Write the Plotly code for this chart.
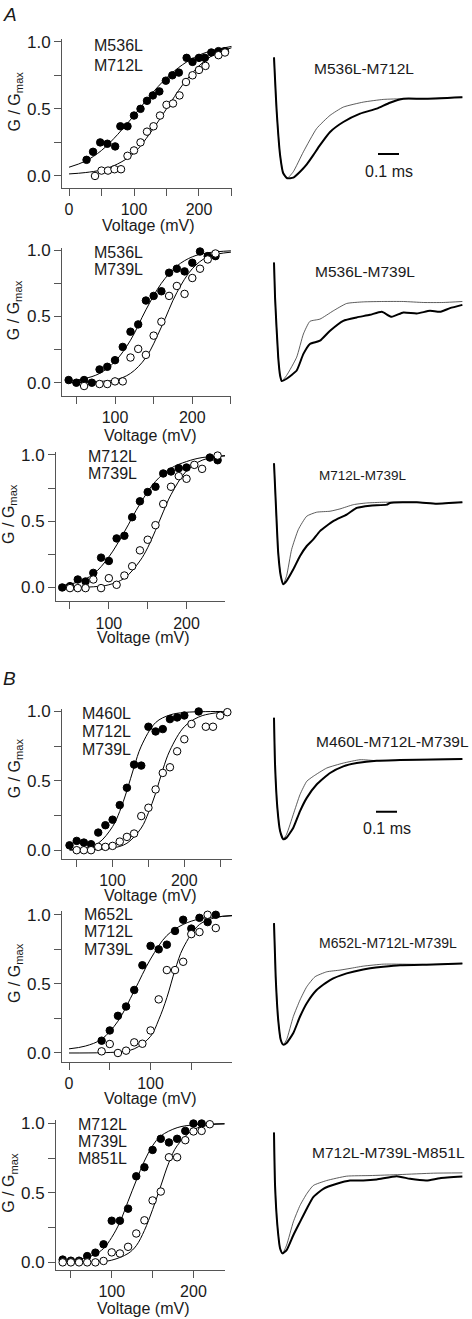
import plotly.graph_objects as go

W, H = 472, 1319
FONT = "Liberation Sans, Arial, Helvetica, sans-serif"

# ---------------- G-V data (mV, G/Gmax) ----------------
# Panel A1: M536L M712L
p1_v_filled = [27, 37, 48, 59, 71, 79, 90, 100, 110, 120, 129, 139, 149, 159, 169, 181, 190, 200, 209, 219, 230, 240]
p1_g_filled = [0.12, 0.18, 0.25, 0.24, 0.22, 0.37, 0.37, 0.45, 0.50, 0.56, 0.60, 0.63, 0.71, 0.75, 0.77, 0.88, 0.85, 0.88, 0.88, 0.92, 0.93, 0.93]
p1_v_open = [40, 50, 60, 70, 80, 90, 100, 110, 120, 130, 140, 150, 160, 170, 180, 190, 200, 210, 230, 240]
p1_g_open = [0.0, 0.04, 0.04, 0.05, 0.05, 0.15, 0.19, 0.25, 0.33, 0.37, 0.45, 0.53, 0.54, 0.60, 0.70, 0.75, 0.79, 0.82, 0.90, 0.92]
p1_fit_v = [0, 25, 50, 75, 100, 125, 150, 175, 200, 225, 250]
p1_fit_filled = [0.065, 0.11, 0.19, 0.31, 0.45, 0.60, 0.73, 0.83, 0.90, 0.94, 0.965]
p1_fit_open = [0.015, 0.025, 0.045, 0.09, 0.17, 0.32, 0.50, 0.68, 0.82, 0.91, 0.955]

# Panel A2: M536L M739L
p2_v_filled = [40, 50, 60, 70, 80, 90, 100, 110, 120, 130, 140, 150, 160, 170, 180, 190, 200, 210, 220, 230]
p2_g_filled = [0.02, 0.0, 0.02, 0.0, 0.10, 0.12, 0.17, 0.27, 0.385, 0.44, 0.62, 0.655, 0.69, 0.83, 0.86, 0.84, 0.905, 0.99, 0.955, 0.955]
p2_v_open = [60, 80, 90, 100, 110, 120, 130, 140, 150, 160, 170, 180, 190, 200, 210, 220, 230]
p2_g_open = [-0.025, -0.01, -0.01, 0.01, 0.01, 0.19, 0.255, 0.21, 0.355, 0.46, 0.655, 0.73, 0.67, 0.79, 0.86, 0.93, 0.975]
p2_fit_v = [38, 60, 80, 100, 120, 140, 160, 180, 200, 220, 250]
p2_fit_filled = [0.01, 0.03, 0.07, 0.16, 0.32, 0.55, 0.75, 0.88, 0.95, 0.98, 0.995]
p2_fit_open = [0.0, 0.002, 0.01, 0.02, 0.07, 0.19, 0.42, 0.68, 0.86, 0.95, 0.985]

# Panel A3: M712L M739L
p3_v_filled = [40, 50, 60, 70, 80, 90, 100, 110, 120, 130, 140, 150, 160, 170, 180, 190, 200, 230, 240]
p3_g_filled = [0.0, 0.01, 0.06, 0.045, 0.11, 0.225, 0.20, 0.37, 0.39, 0.53, 0.65, 0.72, 0.76, 0.86, 0.875, 0.90, 0.905, 0.98, 0.96]
p3_v_open = [50, 60, 70, 80, 90, 100, 110, 120, 130, 140, 150, 160, 170, 180, 190, 200, 210, 220, 240]
p3_g_open = [-0.005, -0.005, -0.005, 0.06, -0.005, 0.07, 0.02, 0.09, 0.16, 0.28, 0.36, 0.47, 0.63, 0.76, 0.84, 0.82, 0.925, 0.895, 0.995]
p3_fit_v = [40, 60, 80, 100, 120, 140, 160, 180, 200, 220, 250]
p3_fit_filled = [0.015, 0.04, 0.10, 0.23, 0.42, 0.63, 0.80, 0.90, 0.95, 0.98, 0.993]
p3_fit_v2 = [40, 80, 100, 120, 140, 150, 160, 170, 180, 200, 220, 250]
p3_fit_open = [0.0, 0.005, 0.02, 0.07, 0.20, 0.30, 0.43, 0.57, 0.70, 0.88, 0.96, 0.995]

# Panel B1: M460L M712L M739L
p4_v_filled = [40, 50, 60, 70, 80, 90, 100, 110, 120, 130, 140, 150, 160, 170, 180, 190, 200, 220]
p4_g_filled = [0.035, 0.067, 0.055, 0.043, 0.127, 0.18, 0.22, 0.325, 0.45, 0.617, 0.61, 0.89, 0.856, 0.873, 0.945, 0.957, 0.971, 1.0]
p4_v_open = [50, 60, 70, 80, 90, 100, 110, 120, 130, 140, 150, 160, 170, 180, 190, 200, 210, 230, 240, 250, 260]
p4_g_open = [0.0, 0.0, 0.0, 0.024, 0.024, 0.031, 0.062, 0.096, 0.12, 0.246, 0.306, 0.438, 0.557, 0.598, 0.713, 0.80, 0.91, 0.89, 0.89, 0.97, 0.995]
p4_fit_v = [40, 60, 80, 100, 110, 120, 130, 140, 160, 180, 200, 230, 264]
p4_fit_filled = [0.005, 0.015, 0.05, 0.17, 0.28, 0.43, 0.60, 0.75, 0.92, 0.975, 0.993, 0.999, 1.0]
p4_fit_v2 = [40, 80, 100, 120, 140, 150, 160, 170, 180, 200, 220, 240, 264]
p4_fit_open = [0.0, 0.005, 0.015, 0.05, 0.16, 0.27, 0.41, 0.58, 0.72, 0.89, 0.96, 0.987, 0.997]

# Panel B2: M652L M712L M739L
p5_v_filled = [40, 50, 60, 70, 80, 90, 100, 110, 120, 130, 140, 150, 160, 170, 180]
p5_g_filled = [0.089, 0.163, 0.269, 0.336, 0.456, 0.635, 0.775, 0.75, 0.784, 0.883, 0.964, 0.90, 0.978, 0.947, 1.0]
p5_v_open = [40, 50, 60, 70, 80, 90, 100, 110, 120, 130, 140, 150, 160, 170, 180, 200]
p5_g_open = [0.012, 0.065, 0.0, 0.017, 0.077, 0.067, 0.163, 0.388, 0.60, 0.60, 0.66, 0.86, 0.875, 1.0, 0.904, 1.0]
p5_fit_v = [0, 20, 40, 60, 80, 100, 120, 140, 160, 180, 200]
p5_fit_filled = [0.03, 0.05, 0.10, 0.23, 0.45, 0.68, 0.85, 0.93, 0.97, 0.985, 0.993]
p5_fit_v2 = [0, 40, 60, 80, 100, 110, 120, 130, 140, 160, 180, 200]
p5_fit_open = [0.0, 0.002, 0.008, 0.03, 0.12, 0.24, 0.40, 0.60, 0.76, 0.93, 0.98, 0.995]

# Panel B3: M712L M739L M851L
p6_v_filled = [40, 50, 60, 70, 80, 90, 100, 110, 120, 130, 140, 150, 160, 170, 180, 190, 200, 210]
p6_g_filled = [0.02, 0.012, 0.012, 0.045, 0.07, 0.13, 0.30, 0.30, 0.387, 0.62, 0.685, 0.81, 0.89, 0.864, 0.89, 0.947, 1.0, 1.0]
p6_v_open = [40, 50, 60, 70, 80, 90, 100, 110, 120, 130, 140, 150, 160, 170, 180, 190, 200, 210, 220]
p6_g_open = [0.0, 0.0, 0.0, 0.0, 0.0, 0.01, 0.072, 0.064, 0.112, 0.208, 0.303, 0.446, 0.51, 0.757, 0.757, 0.88, 0.943, 0.947, 0.995]
p6_fit_v = [40, 60, 80, 90, 100, 110, 120, 130, 140, 150, 160, 180, 200, 238]
p6_fit_filled = [0.005, 0.02, 0.06, 0.10, 0.18, 0.29, 0.44, 0.59, 0.73, 0.84, 0.91, 0.97, 0.99, 0.999]
p6_fit_v2 = [40, 80, 100, 120, 130, 140, 150, 160, 170, 180, 200, 220, 238]
p6_fit_open = [0.0, 0.002, 0.016, 0.064, 0.12, 0.23, 0.38, 0.55, 0.72, 0.84, 0.955, 0.99, 0.997]

gv_labels = [["M536L", "M712L"], ["M536L", "M739L"], ["M712L", "M739L"],
             ["M460L", "M712L", "M739L"], ["M652L", "M712L", "M739L"], ["M712L", "M739L", "M851L"]]

# ---------------- current traces (time ms, current a.u.; trough = 0) ----------------
t1_thick_t = [0, 0.013, 0.029, 0.044, 0.063, 0.092, 0.124, 0.156, 0.187, 0.219, 0.267, 0.33, 0.41, 0.489, 0.552, 0.616, 0.711, 0.897]
t1_thick_i = [1.216, 0.666, 0.233, 0.05, 0.0, 0.006, 0.066, 0.14, 0.233, 0.333, 0.466, 0.566, 0.65, 0.70, 0.76, 0.80, 0.80, 0.816]
t1_thin_t = [0, 0.013, 0.029, 0.044, 0.063, 0.092, 0.14, 0.203, 0.267, 0.33, 0.425, 0.52, 0.616, 0.711, 0.897]
t1_thin_i = [1.216, 0.666, 0.233, 0.05, 0.0, 0.066, 0.266, 0.50, 0.633, 0.716, 0.766, 0.793, 0.80, 0.80, 0.816]

t2_thick_t = [0, 0.005, 0.02, 0.029, 0.037, 0.06, 0.108, 0.14, 0.171, 0.219, 0.267, 0.33, 0.394, 0.457, 0.513, 0.56, 0.616, 0.68, 0.743, 0.79, 0.838, 0.897]
t2_thick_i = [1.193, 0.84, 0.24, 0.056, 0.0, 0.023, 0.106, 0.273, 0.373, 0.406, 0.506, 0.606, 0.64, 0.666, 0.696, 0.646, 0.69, 0.68, 0.706, 0.696, 0.733, 0.766]
t2_thin_t = [0, 0.005, 0.02, 0.029, 0.037, 0.06, 0.108, 0.14, 0.171, 0.219, 0.282, 0.346, 0.425, 0.52, 0.616, 0.711, 0.806, 0.897]
t2_thin_i = [1.193, 0.84, 0.24, 0.056, 0.0, 0.056, 0.24, 0.473, 0.60, 0.623, 0.706, 0.78, 0.796, 0.80, 0.80, 0.79, 0.79, 0.80]

t3_thick_t = [0, 0.01, 0.02, 0.032, 0.044, 0.06, 0.092, 0.124, 0.156, 0.187, 0.219, 0.282, 0.346, 0.394, 0.457, 0.537, 0.552, 0.68, 0.775, 0.897]
t3_thick_i = [1.217, 0.75, 0.317, 0.084, 0.0, 0.034, 0.15, 0.284, 0.384, 0.45, 0.534, 0.634, 0.70, 0.767, 0.79, 0.80, 0.817, 0.824, 0.81, 0.824]
t3_thin_t = [0, 0.01, 0.02, 0.032, 0.044, 0.06, 0.084, 0.116, 0.156, 0.203, 0.267, 0.314, 0.378, 0.441, 0.52, 0.68, 0.775, 0.897]
t3_thin_i = [1.217, 0.75, 0.317, 0.084, 0.0, 0.084, 0.35, 0.55, 0.684, 0.724, 0.734, 0.757, 0.80, 0.817, 0.824, 0.824, 0.81, 0.824]

t4_thick_t = [0, 0.005, 0.016, 0.029, 0.044, 0.06, 0.092, 0.124, 0.156, 0.203, 0.267, 0.33, 0.394, 0.489, 0.60, 0.759, 0.897]
t4_thick_i = [1.223, 0.75, 0.316, 0.083, 0.0, 0.016, 0.116, 0.283, 0.416, 0.55, 0.666, 0.733, 0.766, 0.79, 0.796, 0.803, 0.806]
t4_thin_t = [0, 0.005, 0.016, 0.029, 0.044, 0.06, 0.092, 0.124, 0.156, 0.187, 0.251, 0.33, 0.41, 0.489, 0.60, 0.759, 0.897]
t4_thin_i = [1.223, 0.75, 0.316, 0.083, 0.0, 0.05, 0.25, 0.45, 0.583, 0.633, 0.716, 0.766, 0.80, 0.79, 0.796, 0.803, 0.806]

t5_thick_t = [0, 0.008, 0.02, 0.032, 0.044, 0.06, 0.092, 0.124, 0.156, 0.203, 0.267, 0.346, 0.425, 0.52, 0.60, 0.759, 0.897]
t5_thick_i = [1.223, 0.683, 0.25, 0.05, 0.0, 0.017, 0.117, 0.283, 0.417, 0.55, 0.65, 0.717, 0.757, 0.783, 0.80, 0.807, 0.817]
t5_thin_t = [0, 0.008, 0.02, 0.032, 0.044, 0.06, 0.092, 0.124, 0.156, 0.195, 0.251, 0.314, 0.362, 0.425, 0.52, 0.60, 0.759, 0.897]
t5_thin_i = [1.223, 0.683, 0.25, 0.05, 0.0, 0.05, 0.283, 0.45, 0.583, 0.683, 0.733, 0.75, 0.767, 0.79, 0.81, 0.81, 0.807, 0.817]

t6_thick_t = [0, 0.005, 0.016, 0.029, 0.041, 0.06, 0.092, 0.124, 0.156, 0.187, 0.235, 0.299, 0.362, 0.425, 0.489, 0.584, 0.648, 0.727, 0.79, 0.897]
t6_thick_i = [1.217, 0.683, 0.283, 0.05, 0.0, 0.033, 0.183, 0.317, 0.45, 0.567, 0.65, 0.70, 0.733, 0.733, 0.743, 0.777, 0.75, 0.733, 0.757, 0.773]
t6_thin_t = [0, 0.005, 0.016, 0.029, 0.041, 0.06, 0.092, 0.124, 0.156, 0.187, 0.251, 0.346, 0.457, 0.60, 0.759, 0.897]
t6_thin_i = [1.217, 0.683, 0.283, 0.05, 0.0, 0.083, 0.317, 0.483, 0.60, 0.683, 0.733, 0.777, 0.783, 0.793, 0.807, 0.81]

trace_labels = ["M536L-M712L", "M536L-M739L", "M712L-M739L",
                "M460L-M712L-M739L", "M652L-M712L-M739L", "M712L-M739L-M851L"]
scale_bar_ms = 0.1
scale_bar_label = "0.1 ms"
x_title = "Voltage (mV)"
y_title = "G / G<sub>max</sub>"
y_major = [0, 0.5, 1.0]
y_major_text = ["0.0", "0.5", "1.0"]
y_minor = [0.25, 0.75]

# ---------------- layout geometry (pixels) ----------------
gv = [
    dict(d=(p1_v_filled, p1_g_filled, p1_v_open, p1_g_open, p1_fit_v, p1_fit_filled, p1_fit_v, p1_fit_open),
         xpx=(62, 232), ypx=(33, 183), xr=(-10.8, 250.8), yr=(-0.089, 1.022), xt=[0, 50, 100, 150, 200, 250],
         ytitle=(15, 96), xtitle=(148, 221), lab=(92, 40), labdy=20),
    dict(d=(p2_v_filled, p2_g_filled, p2_v_open, p2_g_open, p2_fit_v, p2_fit_filled, p2_fit_v, p2_fit_open),
         xpx=(62, 231), ypx=(243, 392), xr=(31.4, 250.1), yr=(-0.0975, 1.02), xt=[50, 100, 150, 200, 250],
         ytitle=(14, 306), xtitle=(150, 432), lab=(92, 248), labdy=17.5),
    dict(d=(p3_v_filled, p3_g_filled, p3_v_open, p3_g_open, p3_fit_v, p3_fit_filled, p3_fit_v2, p3_fit_open),
         xpx=(56, 225), ypx=(449, 599), xr=(32.0, 249.5), yr=(-0.105, 1.02), xt=[50, 100, 150, 200, 250],
         ytitle=(10, 511), xtitle=(143, 635), lab=(86, 453), labdy=17.5),
    dict(d=(p4_v_filled, p4_g_filled, p4_v_open, p4_g_open, p4_fit_v, p4_fit_filled, p4_fit_v2, p4_fit_open),
         xpx=(62, 232), ypx=(707, 858), xr=(29.5, 266.5), yr=(-0.062, 1.02), xt=[50, 100, 150, 200, 250],
         ytitle=(15, 767), xtitle=(150, 895), lab=(80, 712), labdy=18),
    dict(d=(p5_v_filled, p5_g_filled, p5_v_open, p5_g_open, p5_fit_v, p5_fit_filled, p5_fit_v2, p5_fit_open),
         xpx=(62, 232), ypx=(911, 1062), xr=(-8.6, 199.9), yr=(-0.062, 1.024), xt=[0, 50, 100, 150, 200],
         ytitle=(15, 973), xtitle=(150, 1099), lab=(82, 914), labdy=17.5),
    dict(d=(p6_v_filled, p6_g_filled, p6_v_open, p6_g_open, p6_fit_v, p6_fit_filled, p6_fit_v2, p6_fit_open),
         xpx=(56, 225), ypx=(1121, 1272), xr=(31.8, 238.6), yr=(-0.057, 1.024), xt=[50, 100, 150, 200],
         ytitle=(10, 1184), xtitle=(143, 1310), lab=(76, 1125), labdy=17.5),
]

traces_data = [
    (t1_thick_t, t1_thick_i, t1_thin_t, t1_thin_i),
    (t2_thick_t, t2_thick_i, t2_thin_t, t2_thin_i),
    (t3_thick_t, t3_thick_i, t3_thin_t, t3_thin_i),
    (t4_thick_t, t4_thick_i, t4_thin_t, t4_thin_i),
    (t5_thick_t, t5_thick_i, t5_thin_t, t5_thin_i),
    (t6_thick_t, t6_thick_i, t6_thin_t, t6_thin_i),
]
trace_geo = [
    dict(trough=173.3, ypx=(40, 190), lab=(364, 63), fs=15.5, bar=(378, 149), barlab=(389, 167)),
    dict(trough=377.3, ypx=(250, 395), lab=(365, 267), fs=15.5),
    dict(trough=581.7, ypx=(450, 600), lab=(363, 472), fs=13.5),
    dict(trough=838.3, ypx=(705, 855), lab=(392, 740), fs=15.5, bar=(376, 810.7), barlab=(387, 828)),
    dict(trough=1045, ypx=(915, 1060), lab=(388, 943), fs=14),
    dict(trough=1255, ypx=(1125, 1270), lab=(388, 1153), fs=15.5),
]
T_X0 = 274
PX_PER_MS = 210
PX_PER_UNIT = 100
TXPX = (266, 470)


def fx(px):
    return px / W


def fy(py):
    return 1 - py / H


fig = go.Figure()
layout = {}
annotations = []
shapes = []
axcol = "#555555"
txtcol = "#1a1a1a"
FS = 16
hidden_axis = dict(showticklabels=False, showline=False, showgrid=False, zeroline=False, ticks="",
                   fixedrange=True)

for k, p in enumerate(gv):
    n = k + 1
    sx = "" if n == 1 else str(n)
    xa, ya = "x" + sx, "y" + sx
    vf, gf, vo, go_, fv, ff, fv2, fo = p["d"]
    fig.add_trace(go.Scatter(x=fv, y=ff, mode="lines", line=dict(color="black", width=1, shape="spline", smoothing=1.0),
                             xaxis=xa, yaxis=ya, showlegend=False, hoverinfo="skip"))
    fig.add_trace(go.Scatter(x=fv2, y=fo, mode="lines", line=dict(color="black", width=1, shape="spline", smoothing=1.0),
                             xaxis=xa, yaxis=ya, showlegend=False, hoverinfo="skip"))
    fig.add_trace(go.Scatter(x=vf, y=gf, mode="markers", cliponaxis=False,
                             marker=dict(size=7.5, color="black", line=dict(color="black", width=1)),
                             xaxis=xa, yaxis=ya, showlegend=False))
    fig.add_trace(go.Scatter(x=vo, y=go_, mode="markers", cliponaxis=False,
                             marker=dict(size=7.5, color="white", line=dict(color="black", width=1)),
                             xaxis=xa, yaxis=ya, showlegend=False))
    xt = p["xt"]
    xmaj = [v for v in xt if v % 100 == 0]
    xmin = [v for v in xt if v % 100 != 0]
    tickstyle = dict(showline=True, linecolor=axcol, linewidth=1, ticks="outside", ticklen=7,
                     tickcolor=axcol, tickwidth=1, showgrid=False, zeroline=False)
    layout["xaxis" + sx] = dict(domain=[fx(p["xpx"][0]), fx(p["xpx"][1])], range=list(p["xr"]), anchor=ya,
                                tickmode="array", tickvals=xmaj, ticktext=[str(v) for v in xmaj],
                                minor=dict(tickmode="array", tickvals=xmin, ticks="outside", ticklen=7,
                                           tickcolor=axcol, tickwidth=1, showgrid=False),
                                tickfont=dict(family=FONT, size=FS, color=txtcol), **tickstyle)
    layout["yaxis" + sx] = dict(domain=[fy(p["ypx"][1]), fy(p["ypx"][0])], range=list(p["yr"]), anchor=xa,
                                tickmode="array", tickvals=y_major, ticktext=y_major_text,
                                minor=dict(tickmode="array", tickvals=y_minor, ticks="outside", ticklen=7,
                                           tickcolor=axcol, tickwidth=1, showgrid=False),
                                tickfont=dict(family=FONT, size=FS + 1, color=txtcol), **tickstyle)
    annotations.append(dict(text=y_title, x=fx(p["ytitle"][0]), y=fy(p["ytitle"][1]), xref="paper", yref="paper",
                            textangle=-90, showarrow=False, xanchor="center", yanchor="middle",
                            font=dict(family=FONT, size=FS, color=txtcol)))
    annotations.append(dict(text=x_title, x=fx(p["xtitle"][0]), y=fy(p["xtitle"][1]), xref="paper", yref="paper",
                            showarrow=False, xanchor="center", yanchor="middle",
                            font=dict(family=FONT, size=FS, color=txtcol)))
    for j, s in enumerate(gv_labels[k]):
        annotations.append(dict(text=s, x=fx(p["lab"][0]), y=fy(p["lab"][1] + j * p["labdy"]), xref="paper",
                                yref="paper", showarrow=False, xanchor="left", yanchor="middle",
                                font=dict(family=FONT, size=FS, color=txtcol)))

for k, (tk, ik, tn, inn) in enumerate(traces_data):
    n = k + 7
    xa, ya = "x" + str(n), "y" + str(n)
    g = trace_geo[k]
    fig.add_trace(go.Scatter(x=tn, y=inn, mode="lines", line=dict(color="#333333", width=0.8, shape="spline", smoothing=0.5),
                             xaxis=xa, yaxis=ya, showlegend=False, hoverinfo="skip"))
    fig.add_trace(go.Scatter(x=tk, y=ik, mode="lines", line=dict(color="black", width=2, shape="spline", smoothing=0.5),
                             xaxis=xa, yaxis=ya, showlegend=False, hoverinfo="skip"))
    layout["xaxis" + str(n)] = dict(domain=[fx(TXPX[0]), fx(TXPX[1])],
                                    range=[(TXPX[0] - T_X0) / PX_PER_MS, (TXPX[1] - T_X0) / PX_PER_MS],
                                    anchor=ya, **hidden_axis)
    layout["yaxis" + str(n)] = dict(domain=[fy(g["ypx"][1]), fy(g["ypx"][0])],
                                    range=[(g["trough"] - g["ypx"][1]) / PX_PER_UNIT,
                                           (g["trough"] - g["ypx"][0]) / PX_PER_UNIT],
                                    anchor=xa, **hidden_axis)
    annotations.append(dict(text=trace_labels[k], x=fx(g["lab"][0]), y=fy(g["lab"][1]), xref="paper",
                            yref="paper", showarrow=False, xanchor="center", yanchor="middle",
                            font=dict(family=FONT, size=g["fs"], color=txtcol)))
    if "bar" in g:
        bx, by = g["bar"]
        t0 = (bx - T_X0) / PX_PER_MS
        ib = (g["trough"] - by) / PX_PER_UNIT
        shapes.append(dict(type="line", xref=xa, yref=ya, x0=t0, x1=t0 + scale_bar_ms, y0=ib, y1=ib,
                           line=dict(color="black", width=2)))
        annotations.append(dict(text=scale_bar_label, x=fx(g["barlab"][0]), y=fy(g["barlab"][1]), xref="paper",
                                yref="paper", showarrow=False, xanchor="center", yanchor="middle",
                                font=dict(family=FONT, size=FS, color=txtcol)))

annotations.append(dict(text="<i>A</i>", x=fx(1), y=fy(9), xref="paper", yref="paper", showarrow=False,
                        xanchor="left", yanchor="middle", font=dict(family=FONT, size=19, color=txtcol)))
annotations.append(dict(text="<i>B</i>", x=fx(1), y=fy(677), xref="paper", yref="paper", showarrow=False,
                        xanchor="left", yanchor="middle", font=dict(family=FONT, size=19, color=txtcol)))

fig.update_layout(width=W, height=H, autosize=False, margin=dict(l=0, r=0, t=0, b=0),
                  paper_bgcolor="white", plot_bgcolor="white", annotations=annotations, shapes=shapes,
                  font=dict(family=FONT, size=FS, color=txtcol), **layout)

fig.write_html("out.html", config={"displayModeBar": False},
               post_script="document.body.style.margin='0';document.body.style.overflow='hidden';")
